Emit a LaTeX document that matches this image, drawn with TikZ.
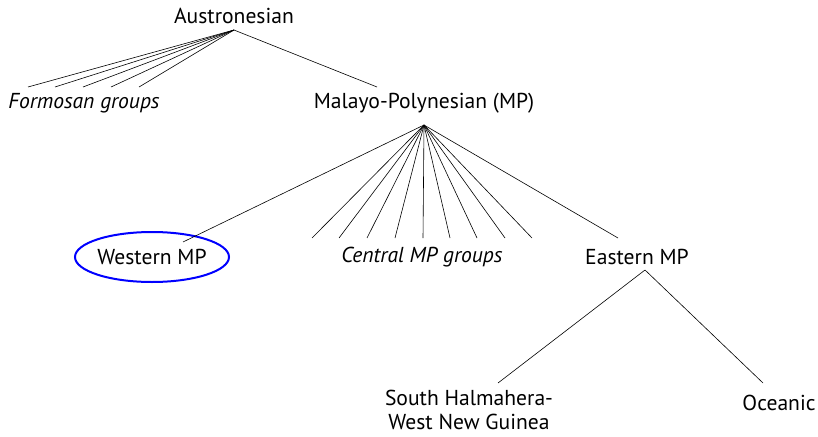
\documentclass[tikz,border=0pt]{standalone}
\usepackage{fontspec}
\setmainfont{PT Sans}
\usetikzlibrary{shapes.geometric}
\begin{document}
\begin{tikzpicture}[x=1pt,y=-1pt,
  lbl/.style={inner sep=0pt,font=\fontsize{21.6}{23.5}\selectfont},
  edge/.style={draw=black,line width=0.6pt},
  circ/.style={draw=blue,line width=2pt,ellipse,minimum width=154pt,minimum height=50pt}]
\useasboundingbox (0,0) rectangle (818,436);
% nodes
\node[lbl] (aus) at (234,16) {Austronesian};
\node[lbl] (formosan) at (84,103) {\itshape Formosan groups};
\node[lbl] (mp) at (424,103) {Malayo-Polynesian (MP)};
\node[lbl] (wmp) at (152,257) {Western MP};
\node[circ] (wmpc) at (152,257) {};
\node[lbl] (cmp) at (422,257) {\itshape Central MP groups};
\node[lbl] (emp) at (637,257) {Eastern MP};
\node[lbl,align=center] (shwng) at (469,410) {South Halmahera-\\West New Guinea};
\node[lbl] (oce) at (779,403) {Oceanic};
% apexes
\coordinate (ausA) at (234,30);
\coordinate (mpA) at (424,125);
\coordinate (empA) at (645,270);
% ends
\foreach \x [count=\i] in {28,55,83,111,139} \coordinate (f\i) at (\x,87);
\coordinate (mpT) at (377,87);
\coordinate (wT) at (183,242);
\foreach \x [count=\i] in {312,339,367,395,423,450,477,505,532} \coordinate (c\i) at (\x,238);
\coordinate (eT) at (618,238);
\coordinate (sT) at (498,383);
\coordinate (oT) at (763,383);
% edges
\foreach \i in {1,...,5} \draw[edge] (ausA) -- (f\i);
\draw[edge] (ausA) -- (mpT);
\draw[edge] (mpA) -- (wT);
\foreach \i in {1,...,9} \draw[edge] (mpA) -- (c\i);
\draw[edge] (mpA) -- (eT);
\draw[edge] (empA) -- (sT);
\draw[edge] (empA) -- (oT);
\end{tikzpicture}
\end{document}
